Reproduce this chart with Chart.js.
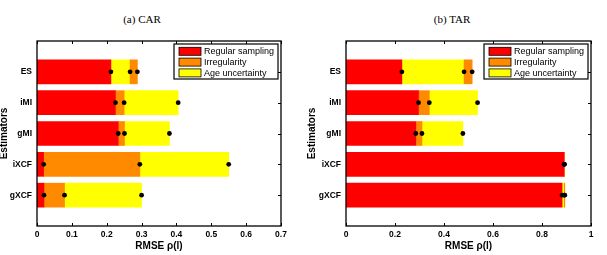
<!DOCTYPE html>
<html>
<head>
<meta charset="utf-8">
<script src="https://cdn.jsdelivr.net/npm/chart.js@4/dist/chart.umd.min.js"></script>
<style>
  html, body { margin: 0; padding: 0; background: #fff; }
  #wrap { position: relative; width: 607px; height: 255px; overflow: hidden; }
  canvas { position: absolute; top: 0; }
  .ttl { position: absolute; top: 13px; font: 11px "Liberation Serif", "Times New Roman", serif; color: #000; white-space: nowrap; transform: translateX(-50%); }
</style>
</head>
<body>
<div id="wrap">
  <div class="ttl" style="left:142px">(a) CAR</div>
  <div class="ttl" style="left:452px">(b) TAR</div>
  <canvas id="carChart" width="300" height="255" style="left:0;width:300px;height:255px"></canvas>
  <canvas id="tarChart" width="307" height="255" style="left:300px;width:307px;height:255px"></canvas>
</div>
<script>
"use strict";

// ---- data ----
const estimators = ["ES", "iMI", "gMI", "iXCF", "gXCF"];
const seriesNames = ["Regular sampling", "Irregularity", "Age uncertainty"];
const seriesColors = ["#FF0000", "#FF8A00", "#FFFF00"];

const carRegular   = [0.212, 0.225, 0.233, 0.019, 0.020];
const carIrregular = [0.288, 0.250, 0.251, 0.295, 0.079];
const carAge       = [0.267, 0.405, 0.380, 0.550, 0.300];

const tarRegular   = [0.228, 0.296, 0.285, 0.890, 0.882];
const tarIrregular = [0.515, 0.340, 0.310, 0.892, 0.893];
const tarAge       = [0.482, 0.537, 0.477, 0.891, 0.891];

const carTicks = [0, 0.1, 0.2, 0.3, 0.4, 0.5, 0.6, 0.7];
const tarTicks = [0, 0.2, 0.4, 0.6, 0.8, 1];

const FONT = '"Liberation Sans", Arial, Helvetica, sans-serif';

// bars overlap (largest behind), so each series shows from the next smaller value up to its own
function visibleSegments(all) {
    return all.map((vals, s) => [null].concat(vals.map((v, i) => {
        let lo = 0;
        all.forEach((other, t) => {
            const w = other[i];
            if (t !== s && (w < v || (w === v && t < s)) && w > lo) lo = w;
        });
        return [lo, v];
    }), [null]));
}

const frameTicks = {
    id: "frameTicks",
    beforeDatasetsDraw(chart) {
        const { ctx, chartArea: a, scales: { x, y } } = chart;
        ctx.save();
        ctx.strokeStyle = "#000";
        ctx.lineWidth = 1;
        ctx.beginPath();
        x.ticks.forEach(t => {
            const px = Math.round(x.getPixelForValue(t.value)) + 0.5;
            ctx.moveTo(px, a.bottom); ctx.lineTo(px, a.bottom - 3);
            ctx.moveTo(px, a.top);    ctx.lineTo(px, a.top + 3);
        });
        for (let i = 1; i <= estimators.length; i++) {
            const py = Math.round(y.getPixelForValue(i)) + 0.5;
            ctx.moveTo(a.left, py);  ctx.lineTo(a.left + 3, py);
            ctx.moveTo(a.right, py); ctx.lineTo(a.right - 3, py);
        }
        ctx.stroke();
        ctx.restore();
    },
    afterDatasetsDraw(chart) {
        const { ctx, chartArea: a } = chart;
        ctx.save();
        ctx.strokeStyle = "#000";
        ctx.lineWidth = 1.3;
        ctx.strokeRect(a.left, a.top, a.right - a.left, a.bottom - a.top);
        ctx.restore();
    }
};

const boxLegend = {
    id: "boxLegend",
    afterDraw(chart) {
        const { ctx, chartArea: a } = chart;
        const w = 104, h = 35;
        const left = a.right - 3 - w, top = a.top + 3;
        ctx.save();
        ctx.fillStyle = "#fff";
        ctx.fillRect(left, top, w, h);
        ctx.strokeStyle = "#000";
        ctx.lineWidth = 1.2;
        ctx.strokeRect(left, top, w, h);
        ctx.font = "9px " + FONT;
        ctx.textBaseline = "middle";
        seriesNames.forEach((name, i) => {
            const cy = top + 7.3 + i * 10.8;
            ctx.fillStyle = seriesColors[i];
            ctx.fillRect(left + 5, cy - 4, 22, 8);
            ctx.lineWidth = 0.8;
            ctx.strokeRect(left + 5, cy - 4, 22, 8);
            ctx.fillStyle = "#000";
            ctx.fillText(name, left + 30, cy + 0.5);
        });
        ctx.restore();
    }
};

function makeChart(id, all, maxX, ticks, opts) {
    const labels = [""].concat(estimators, [" "]);
    const segs = visibleSegments(all);

    const bars = segs.map((data, s) => ({
        type: "bar",
        label: seriesNames[s],
        data: data,
        backgroundColor: seriesColors[s],
        borderWidth: 0,
        grouped: false,
        barThickness: 24,
        order: 2
    }));
    const dots = all.map((vals, s) => ({
        type: "line",
        label: seriesNames[s] + " value",
        data: [null].concat(vals, [null]),
        showLine: false,
        pointRadius: 2.4,
        pointHoverRadius: 2.4,
        pointBackgroundColor: "#000",
        pointBorderColor: "#000",
        pointBorderWidth: 0,
        borderColor: "#000",
        order: 0
    }));

    return new Chart(document.getElementById(id), {
        data: { labels: labels, datasets: bars.concat(dots) },
        options: {
            indexAxis: "y",
            responsive: false,
            animation: false,
            events: [],
            layout: { padding: { top: 41, right: opts.padRight, left: 0, bottom: 0 } },
            plugins: { legend: { display: false }, tooltip: { enabled: false } },
            scales: {
                x: {
                    type: "linear",
                    min: 0, max: maxX,
                    afterBuildTicks: sc => { sc.ticks = ticks.map(v => ({ value: v })); },
                    grid: { display: false, drawTicks: false },
                    border: { display: false },
                    ticks: {
                        padding: 4,
                        color: "#000",
                        font: { family: FONT, size: 8.5, weight: "bold" },
                        callback: v => String(v)
                    },
                    title: {
                        display: true, text: "RMSE ρ(l)", color: "#000",
                        font: { family: FONT, size: 10, weight: "bold" },
                        padding: { top: 0, bottom: 3 }
                    },
                    afterFit: sc => { sc.height = 29; }
                },
                y: {
                    type: "category",
                    offset: false,
                    grid: { display: false, drawTicks: false },
                    border: { display: false },
                    ticks: {
                        padding: 5,
                        autoSkip: false,
                        color: "#000",
                        font: { family: FONT, size: 8.5, weight: "bold" }
                    },
                    title: {
                        display: true, text: "Estimators", color: "#000",
                        font: { family: FONT, size: 10, weight: "bold", lineHeight: 0.8 },
                        padding: { top: opts.titlePad, bottom: 0 }
                    },
                    afterFit: sc => { sc.width = opts.axisWidth; }
                }
            }
        },
        plugins: [frameTicks, boxLegend]
    });
}

makeChart("carChart", [carRegular, carIrregular, carAge], 0.7, carTicks,
    { padRight: 19, axisWidth: 37, titlePad: 0 });
makeChart("tarChart", [tarRegular, tarIrregular, tarAge], 1, tarTicks,
    { padRight: 16, axisWidth: 46, titlePad: 8 });
</script>
</body>
</html>
